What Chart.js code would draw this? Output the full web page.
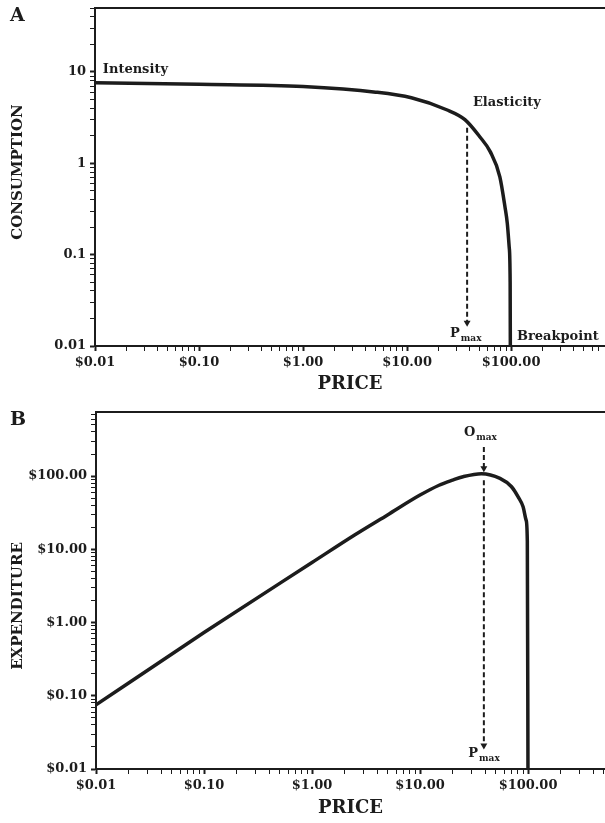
<!DOCTYPE html>
<html>
<head>
<meta charset="utf-8">
<title>Demand and Expenditure Curves</title>
<script src="https://cdn.jsdelivr.net/npm/chart.js"></script>
<style>
  body{
    margin:0px;
    padding:0px;
    background-color:#fff;
  }
  .panel{
    position:absolute;
    left:0px;
    width:605px;
  }
  #panelA{ top:0px; height:400px; }
  #panelB{ top:400px; height:423px; }
</style>
</head>
<body>
<div class="panel" id="panelA"><canvas id="chartA"></canvas></div>
<div class="panel" id="panelB"><canvas id="chartB"></canvas></div>
<script>
// panel A - consumption vs price
var pricesA = [0.01, 0.1, 1, 5, 11, 24, 36, 50, 63, 78, 87.5, 92, 96, 98, 98.5];
var consumption = [7.6, 7.3, 6.9, 6.0, 5.2, 3.85, 3.0, 1.95, 1.34, 0.71, 0.33, 0.22, 0.12, 0.05, 0.005];
var pmaxPriceA = [37.8, 37.8];
var pmaxLineA = [2.45, 0.018];

// panel B - expenditure vs price
var pricesB = [0.01, 0.1, 1, 2.5, 5, 10, 15, 20, 25, 37, 55, 70, 81, 90, 96, 98.5, 100];
var expenditure = [0.075, 0.73, 6.6, 15.8, 29.5, 55, 75, 88, 98, 108, 93, 72, 52, 38, 25, 13, 0.005];
var omaxPriceB = [39, 39];
var omaxLineB = [250, 128];
var pmaxLineB = [88, 0.021];

// tick labels
var priceTicks = [0.01, 0.1, 1, 10, 100];
var priceLabels = ['$0.01', '$0.10', '$1.00', '$10.00', '$100.00'];
var consTicks = [0.01, 0.1, 1, 10];
var consLabels = ['0.01', '0.1', '1', '10'];
var expTicks = [0.01, 0.1, 1, 10, 100];
var expLabels = ['$0.01', '$0.10', '$1.00', '$10.00', '$100.00'];

var INK = '#1c1c1c';
var FONT = 'DejaVu Serif';

function toPoints(xs, ys){
  return xs.map(function(x, i){ return {x: x, y: ys[i]}; });
}

// 1..9 x 10^k marks between min and max
function logTicks(min, max){
  var out = [];
  for (var e = Math.floor(Math.log10(min)); e <= Math.ceil(Math.log10(max)); e++) {
    for (var s = 1; s < 10; s++) {
      var v = parseFloat((s * Math.pow(10, e)).toPrecision(6));
      if (v >= min && v <= max) out.push({value: v, major: s === 1});
    }
  }
  return out;
}

function logAxis(min, max, majors, labels, size, title){
  return {
    type: 'logarithmic',
    min: min,
    max: max,
    afterBuildTicks: function(ax){ ax.ticks = logTicks(min, max); },
    afterFit: function(ax){
      if (ax.isHorizontal()) {
        ax.height = size;
        ax.paddingLeft = 0;
        ax.paddingRight = 0;
      } else {
        ax.width = size;
        ax.paddingTop = 0;
        ax.paddingBottom = 0;
      }
    },
    grid: {
      drawOnChartArea: false,
      tickLength: 5,
      tickColor: INK,
      tickWidth: function(c){ return c.tick && c.tick.major ? 2 : 1; }
    },
    border: { color: INK, width: 2 },
    title: title,
    ticks: {
      autoSkip: false,
      maxRotation: 0,
      padding: 4,
      color: INK,
      font: { family: FONT, weight: 'bold', size: 13 },
      callback: function(v){
        for (var i = 0; i < majors.length; i++) {
          if (Math.abs(Math.log10(v) - Math.log10(majors[i])) < 1e-6) return labels[i];
        }
        return '';
      }
    }
  };
}

function priceTitle(pad){
  return {
    display: true,
    text: 'PRICE',
    color: INK,
    font: { family: FONT, weight: 'bold', size: 18 },
    padding: { top: 0, bottom: pad }
  };
}

// frame top line, panel letter, rotated y title and the notes
var decorPlugin = {
  id: 'decor',
  afterDraw: function(chart, args, opts){
    var ctx = chart.ctx, a = chart.chartArea;
    var xs = chart.scales.x, ys = chart.scales.y;
    ctx.save();
    ctx.strokeStyle = INK;
    ctx.lineWidth = 2;
    ctx.beginPath();
    ctx.moveTo(a.left - 1, a.top);
    ctx.lineTo(a.right, a.top);
    ctx.stroke();

    ctx.fillStyle = INK;
    ctx.textBaseline = 'middle';
    ctx.font = 'bold 19px ' + FONT;
    ctx.textAlign = 'left';
    ctx.fillText(opts.letter, 10, opts.letterY);

    ctx.save();
    ctx.translate(18, opts.titleY);
    ctx.rotate(-Math.PI / 2);
    ctx.textAlign = 'center';
    ctx.font = 'bold 15px ' + FONT;
    ctx.fillText(opts.yTitle, 0, 0);
    ctx.restore();

    opts.notes.forEach(function(n){
      var px = xs.getPixelForValue(n.x), py = ys.getPixelForValue(n.y);
      ctx.textAlign = 'left';
      ctx.font = 'bold 13px ' + FONT;
      ctx.fillText(n.text, px, py);
      if (n.sub) {
        var w = ctx.measureText(n.text).width;
        ctx.font = 'bold 9px ' + FONT;
        ctx.fillText(n.sub, px + w + 1, py + 5);
      }
    });
    ctx.restore();
  }
};

function curve(xs, ys){
  return {
    data: toPoints(xs, ys),
    showLine: true,
    borderColor: INK,
    borderWidth: 3.5,
    pointRadius: 0,
    cubicInterpolationMode: 'monotone',
    fill: false
  };
}

function arrow(xs, ys){
  return {
    data: toPoints(xs, ys),
    showLine: true,
    borderColor: INK,
    borderWidth: 2,
    borderDash: [5, 3],
    pointRadius: [0, 4],
    pointStyle: 'triangle',
    rotation: 180,
    pointBackgroundColor: INK,
    pointBorderWidth: 0
  };
}

new Chart(document.getElementById('chartA'), {
  type: 'scatter',
  data: {
    datasets: [
      curve(pricesA, consumption),
      arrow(pmaxPriceA, pmaxLineA)
    ]
  },
  options: {
    responsive: true,
    maintainAspectRatio: false,
    animation: false,
    layout: { autoPadding: false, padding: { top: 8, left: 0, right: 0, bottom: 0 } },
    scales: {
      x: logAxis(0.01, 800, priceTicks, priceLabels, 54, priceTitle(5)),
      y: logAxis(0.01, 50, consTicks, consLabels, 95, { display: false })
    },
    plugins: {
      legend: { display: false },
      tooltip: { enabled: false },
      decor: {
        letter: 'A',
        letterY: 16,
        yTitle: 'CONSUMPTION',
        titleY: 172,
        notes: [
          { text: 'Intensity', x: 0.0119, y: 10.5 },
          { text: 'Elasticity', x: 43, y: 4.6 },
          { text: 'Breakpoint', x: 114, y: 0.0127 },
          { text: 'P', sub: 'max', x: 25.9, y: 0.0136 }
        ]
      }
    }
  },
  plugins: [decorPlugin]
});

new Chart(document.getElementById('chartB'), {
  type: 'scatter',
  data: {
    datasets: [
      curve(pricesB, expenditure),
      arrow(omaxPriceB, omaxLineB),
      arrow(omaxPriceB, pmaxLineB)
    ]
  },
  options: {
    responsive: true,
    maintainAspectRatio: false,
    animation: false,
    layout: { autoPadding: false, padding: { top: 12, left: 0, right: 0, bottom: 0 } },
    scales: {
      x: logAxis(0.01, 516, priceTicks, priceLabels, 54, priceTitle(4)),
      y: logAxis(0.01, 750, expTicks, expLabels, 96, { display: false })
    },
    plugins: {
      legend: { display: false },
      tooltip: { enabled: false },
      decor: {
        letter: 'B',
        letterY: 20,
        yTitle: 'EXPENDITURE',
        titleY: 206,
        notes: [
          { text: 'O', sub: 'max', x: 25.5, y: 388 },
          { text: 'P', sub: 'max', x: 28, y: 0.016 }
        ]
      }
    }
  },
  plugins: [decorPlugin]
});
</script>
</body>
</html>
